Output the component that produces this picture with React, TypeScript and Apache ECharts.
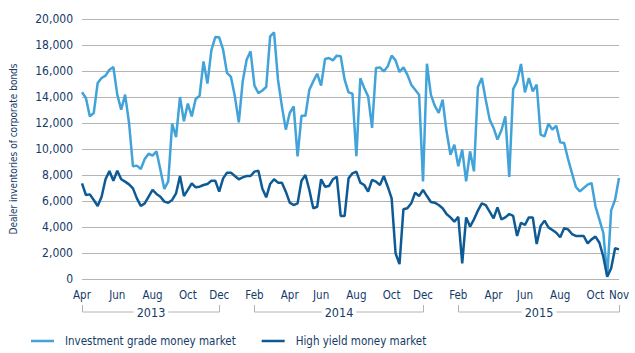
import React, { useEffect, useRef } from "react";
import * as echarts from "echarts";

const START_DATE = "2013-04-01"; // first weekly observation (Mondays)
const MONTH_NAMES = ["Jan", "Feb", "Mar", "Apr", "May", "Jun", "Jul", "Aug", "Sep", "Oct", "Nov", "Dec"];
const TICK_MONTHS = ["Feb", "Apr", "Jun", "Aug", "Oct", "Dec"];

const SERIES_NAMES = ["Investment grade money market", "High yield money market"];
const Y_AXIS_NAME = "Dealer inventories of corporate bonds";
const Y_MIN = 0;
const Y_MAX = 20000;
const Y_INTERVAL = 2000;

const IG_VALUES = [
  14360, 13920, 12510, 12770, 15080, 15460, 15640, 16100, 16310, 14180,
  13030, 14180, 12000, 8670, 8720, 8460, 9230, 9640, 9490, 9820,
  8410, 6920, 7510, 11950, 10920, 14000, 12130, 13490, 12510, 13850,
  14100, 16740, 15030, 17590, 18610, 18590, 17640, 15850, 15540, 14050,
  12050, 15200, 16870, 17510, 14870, 14300, 14500, 14770, 18670, 18970,
  15330, 13280, 11490, 12770, 13280, 9440, 12560, 12560, 14560, 15200,
  15790, 14870, 16920, 17000, 16820, 17180, 17130, 15330, 14360, 14260,
  9440, 15440, 14690, 14050, 11620, 16230, 16280, 15970, 16360, 17180,
  16820, 15920, 16280, 15720, 14950, 14560, 14180, 7510, 16560, 14180,
  13330, 12770, 13790, 11360, 9560, 10330, 8670, 9950, 7510, 9820,
  8280, 14770, 15460, 13790, 12260, 11620, 10720, 11440, 12510, 7850,
  14610, 15200, 16540, 14360, 15460, 14440, 14950, 11100, 10970, 11950,
  11490, 11790, 10510, 10460, 9230, 8150, 7080, 6740, 7000, 7260,
  7380, 5590, 4560, 3540, 210, 5280, 6100, 7770,
];

const HY_VALUES = [
  7360, 6460, 6510, 6080, 5620, 6330, 7670, 8310, 7560, 8330,
  7670, 7490, 7280, 6970, 6200, 5620, 5820, 6330, 6850, 6540,
  6330, 5950, 5870, 6080, 6590, 7920, 6380, 6850, 7360, 7050,
  7100, 7230, 7310, 7560, 7560, 6720, 7740, 8180, 8180, 7920,
  7670, 7820, 7920, 7920, 8260, 8330, 6970, 6280, 7310, 7670,
  7410, 7410, 6720, 5870, 5690, 5820, 7560, 8000, 6850, 5440,
  5560, 7670, 7100, 7150, 7670, 7870, 4850, 4850, 7740, 8130,
  8260, 7410, 7230, 6720, 7620, 7490, 7230, 7920, 7100, 6200,
  1970, 1150, 5360, 5440, 5820, 6640, 6380, 6850, 6380, 5920,
  5870, 5690, 5440, 5000, 4740, 4410, 4790, 1200, 4740, 4030,
  4590, 5260, 5820, 5690, 5180, 4670, 5510, 4590, 4740, 5000,
  4850, 3310, 4330, 4150, 4740, 4740, 2690, 4080, 4490, 3970,
  3770, 3560, 3210, 3900, 3820, 3460, 3310, 3310, 3310, 2740,
  3050, 3260, 2790, 1720, 180, 820, 2360, 2280,
];

const IG_COLOR = "#41a3d9";
const HY_COLOR = "#0e5a95";
const TEXT_COLOR = "#143a68";
const GRID_COLOR = "#b4b4b4";
const FONT = "'DejaVu Sans Condensed', 'Liberation Sans Narrow', sans-serif";

function buildDates(start: string, count: number): Date[] {
  const [y, m, d] = start.split("-").map(Number);
  const out: Date[] = [];
  for (let i = 0; i < count; i++) out.push(new Date(Date.UTC(y, m - 1, d + 7 * i)));
  return out;
}

export default function App() {
  const ref = useRef<HTMLDivElement>(null);

  useEffect(() => {
    if (!ref.current) return;
    const chart = echarts.init(ref.current, undefined, { renderer: "svg" });

    const dates = buildDates(START_DATE, IG_VALUES.length);
    const categories = dates.map((d) => d.toISOString().slice(0, 10));
    const monthOf = (i: number) => MONTH_NAMES[dates[i].getUTCMonth()];
    const last = dates.length - 1;
    const isLabelled = (i: number) =>
      i === 0 ||
      i === last ||
      (dates[i].getUTCMonth() !== dates[i - 1].getUTCMonth() && TICK_MONTHS.includes(monthOf(i)));

    chart.setOption({
      animation: false,
      textStyle: { fontFamily: FONT },
      grid: { left: 76, right: 16, top: 19, bottom: 74 },
      legend: {
        data: SERIES_NAMES,
        left: 26,
        top: 330,
        icon: "rect",
        itemWidth: 23,
        itemHeight: 2.5,
        itemGap: 26,
        textStyle: { color: TEXT_COLOR, fontSize: 11.5, fontFamily: FONT, padding: [0, 0, 0, 6] },
      },
      xAxis: {
        type: "category",
        data: categories,
        boundaryGap: false,
        axisLine: { show: false },
        axisTick: { show: false },
        axisLabel: {
          interval: (i: number) => isLabelled(i),
          formatter: (_v: string, i: number) => monthOf(i),
          color: TEXT_COLOR,
          fontSize: 11.5,
          fontFamily: FONT,
          margin: 10,
        },
      },
      yAxis: {
        type: "value",
        min: Y_MIN,
        max: Y_MAX,
        interval: Y_INTERVAL,
        name: Y_AXIS_NAME,
        nameLocation: "middle",
        nameRotate: 90,
        nameGap: 64,
        nameTextStyle: { color: TEXT_COLOR, fontSize: 10, fontFamily: FONT },
        axisLine: { show: false },
        axisTick: { show: false },
        axisLabel: {
          color: TEXT_COLOR,
          fontSize: 12,
          fontFamily: FONT,
          margin: 9,
          formatter: (v: number) => v.toLocaleString("en-US"),
        },
        splitLine: { lineStyle: { color: GRID_COLOR, width: 1 } },
      },
      series: [
        {
          name: SERIES_NAMES[0],
          type: "line",
          data: IG_VALUES,
          showSymbol: false,
          lineStyle: { color: IG_COLOR, width: 2.5 },
          itemStyle: { color: IG_COLOR },
        },
        {
          name: SERIES_NAMES[1],
          type: "line",
          data: HY_VALUES,
          showSymbol: false,
          lineStyle: { color: HY_COLOR, width: 2.5 },
          itemStyle: { color: HY_COLOR },
        },
      ],
    });

    // Year brackets under the month labels
    const years: Record<string, number[]> = {};
    for (let i = 0; i <= last; i++) {
      if (!isLabelled(i)) continue;
      const y = String(dates[i].getUTCFullYear());
      (years[y] = years[y] || []).push(i);
    }
    const canvas = document.createElement("canvas");
    const ctx = canvas.getContext("2d")!;
    const yearFont = 12.5;
    ctx.font = `${yearFont}px ${FONT}`;
    const lineY = 312;
    const tickTop = 305;
    const graphic: any[] = [];
    Object.keys(years).forEach((yr) => {
      const idx = years[yr];
      const x1 = Math.round(chart.convertToPixel({ xAxisIndex: 0 }, categories[idx[0]]) as number) + 0.5;
      const x2 = Math.round(chart.convertToPixel({ xAxisIndex: 0 }, categories[idx[idx.length - 1]]) as number) + 0.5;
      const mid = (x1 + x2) / 2;
      const half = ctx.measureText(yr).width / 2 + 3;
      const ls = { stroke: GRID_COLOR, lineWidth: 1 };
      graphic.push(
        { type: "line", shape: { x1, y1: tickTop, x2: x1, y2: lineY }, style: ls, silent: true },
        { type: "line", shape: { x1: x2, y1: tickTop, x2, y2: lineY }, style: ls, silent: true },
        { type: "line", shape: { x1, y1: lineY, x2: mid - half, y2: lineY }, style: ls, silent: true },
        { type: "line", shape: { x1: mid + half, y1: lineY, x2, y2: lineY }, style: ls, silent: true },
        {
          type: "text",
          x: mid,
          y: lineY,
          silent: true,
          style: {
            text: yr,
            fill: TEXT_COLOR,
            font: `${yearFont}px ${FONT}`,
            align: "center",
            verticalAlign: "middle",
          },
        }
      );
    });
    chart.setOption({ graphic });

    return () => chart.dispose();
  }, []);

  return (
    <div
      ref={ref}
      style={{ position: "absolute", left: 0, top: 0, width: 635, height: 353 }}
    />
  );
}
